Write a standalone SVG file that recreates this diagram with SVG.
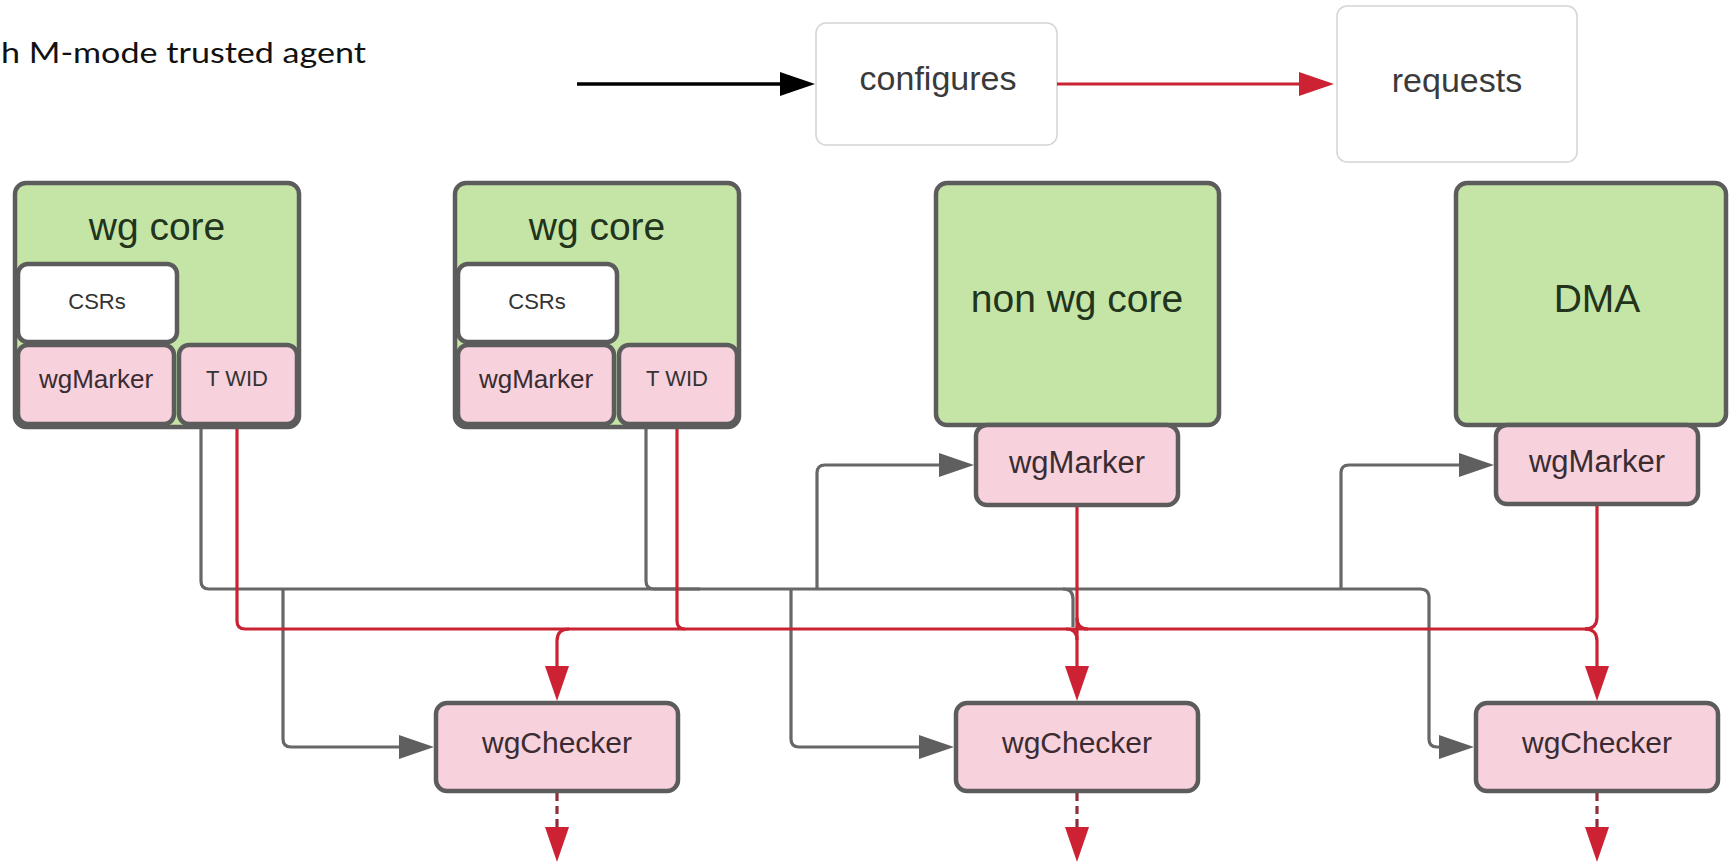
<svg xmlns="http://www.w3.org/2000/svg" width="1729" height="864" viewBox="0 0 1729 864">
  <defs>
    <style>
      .core { fill: #c5e5a7; stroke: #5c5c5c; stroke-width: 4.5; }
      .pink { fill: #f7d1dc; stroke: #5c5c5c; stroke-width: 4.5; }
      .white { fill: #ffffff; stroke: #5c5c5c; stroke-width: 4.5; }
      .legend { fill: #ffffff; stroke: #d4d4d4; stroke-width: 1.5; }
      .conf { fill: none; stroke: #676767; stroke-width: 3.2; }
      .req { fill: none; stroke: #c92333; stroke-width: 3.2; }
      .out { fill: none; stroke: #8f2f3c; stroke-width: 3.2; stroke-dasharray: 8 5; }
      text { font-family: "Liberation Sans", Arial, sans-serif; text-anchor: middle; }
      .big { font-size: 39px; fill: #22341b; }
      .mid { font-size: 31px; fill: #3a2c31; }
      .small { font-size: 26px; fill: #3a2c31; }
      .tiny { font-size: 22px; fill: #333333; }
      .lbl { font-size: 34px; fill: #3a3a3a; }
      .title { font-family: Lato, "Liberation Sans", sans-serif; font-size: 28px; fill: #111111; text-anchor: start; }
    </style>
    <marker id="arrGrey" markerUnits="userSpaceOnUse" markerWidth="36" markerHeight="26" refX="0" refY="12" orient="auto">
      <path d="M0,0 L35,12 L0,24 Z" fill="#5f5f5f"/>
    </marker>
    <marker id="arrBlack" markerUnits="userSpaceOnUse" markerWidth="36" markerHeight="26" refX="0" refY="12" orient="auto">
      <path d="M0,0 L35,12 L0,24 Z" fill="#000000"/>
    </marker>
    <marker id="arrRed" markerUnits="userSpaceOnUse" markerWidth="36" markerHeight="26" refX="0" refY="12" orient="auto">
      <path d="M0,0 L35,12 L0,24 Z" fill="#cc2233"/>
    </marker>
  </defs>

  <rect width="1729" height="864" fill="#ffffff"/>

  <!-- caption -->
  <text class="title" x="1" y="63" textLength="365" lengthAdjust="spacingAndGlyphs">h M-mode trusted agent</text>

  <!-- legend -->
  <g id="legend">
    <path d="M577,84 H780" fill="none" stroke="#000000" stroke-width="3.5" marker-end="url(#arrBlack)"/>
    <rect class="legend" x="816" y="23" width="241" height="122" rx="10"/>
    <text class="lbl" x="938" y="90">configures</text>
    <path d="M1057,84 H1299" class="req" marker-end="url(#arrRed)"/>
    <rect class="legend" x="1337" y="6" width="240" height="156" rx="10"/>
    <text class="lbl" x="1457" y="92">requests</text>
  </g>

  <!-- connectors -->
  <g id="connectors">
    <!-- configuration paths (grey) -->
    <path class="conf" d="M201,427 V581 Q201,589 209,589 H1420 Q1429,589 1429,598 V739 Q1429,747 1437,747 H1439" marker-end="url(#arrGrey)"/>
    <path class="conf" d="M646,427 V581 Q646,589 654,589 H700"/>
    <path class="conf" d="M1063,589 Q1073,589 1073,599 V627"/>
    <path class="conf" d="M283,589 V739 Q283,747 291,747 H399" marker-end="url(#arrGrey)"/>
    <path class="conf" d="M791,589 V739 Q791,747 799,747 H919" marker-end="url(#arrGrey)"/>
    <path class="conf" d="M817,589 V473 Q817,465 825,465 H939" marker-end="url(#arrGrey)"/>
    <path class="conf" d="M1341,589 V473 Q1341,465 1349,465 H1459" marker-end="url(#arrGrey)"/>

    <!-- request paths (red) -->
    <path class="req" d="M237,427 V621 Q237,629 245,629 H1587"/>
    <path class="req" d="M677,427 V621 Q677,629 685,629"/>
    <path class="req" d="M569,629 Q557,629 557,641 V666" marker-end="url(#arrRed)"/>
    <path class="req" d="M1077,505 V666" marker-end="url(#arrRed)"/>
    <path class="req" d="M1066,629 Q1077,629 1077,640 M1088,629 Q1077,629 1077,618"/>
    <path class="req" d="M1597,505 V617 Q1597,629 1585,629"/>
    <path class="req" d="M1585,629 Q1597,629 1597,641 V666" marker-end="url(#arrRed)"/>

    <!-- outgoing checked requests -->
    <path class="out" d="M557,793 V827" marker-end="url(#arrRed)"/>
    <path class="out" d="M1077,793 V827" marker-end="url(#arrRed)"/>
    <path class="out" d="M1597,793 V827" marker-end="url(#arrRed)"/>
  </g>

  <!-- wg core 1 -->
  <g id="wgcore1">
    <rect class="core" x="15" y="183" width="284" height="244" rx="11"/>
    <text class="big" x="157" y="240">wg core</text>
    <rect class="white" x="18" y="264" width="159" height="78" rx="10"/>
    <text class="tiny" x="97" y="309">CSRs</text>
    <rect class="pink" x="18" y="345" width="156" height="79" rx="10"/>
    <text class="small" x="96" y="388">wgMarker</text>
    <rect class="pink" x="179" y="345" width="118" height="79" rx="10"/>
    <text class="tiny" x="237" y="386" textLength="62" lengthAdjust="spacingAndGlyphs">T WID</text>
  </g>

  <!-- wg core 2 -->
  <g id="wgcore2">
    <rect class="core" x="455" y="183" width="284" height="244" rx="11"/>
    <text class="big" x="597" y="240">wg core</text>
    <rect class="white" x="458" y="264" width="159" height="78" rx="10"/>
    <text class="tiny" x="537" y="309">CSRs</text>
    <rect class="pink" x="458" y="345" width="156" height="79" rx="10"/>
    <text class="small" x="536" y="388">wgMarker</text>
    <rect class="pink" x="619" y="345" width="118" height="79" rx="10"/>
    <text class="tiny" x="677" y="386" textLength="62" lengthAdjust="spacingAndGlyphs">T WID</text>
  </g>

  <!-- non wg core -->
  <g id="nonwgcore">
    <rect class="core" x="936" y="183" width="283" height="242" rx="11"/>
    <text class="big" x="1077" y="312">non wg core</text>
  </g>
  <g id="marker3">
    <rect class="pink" x="976" y="425" width="202" height="80" rx="11"/>
    <text class="mid" x="1077" y="473">wgMarker</text>
  </g>

  <!-- DMA -->
  <g id="dma">
    <rect class="core" x="1456" y="183" width="270" height="242" rx="11"/>
    <text class="big" x="1597" y="312">DMA</text>
  </g>
  <g id="marker4">
    <rect class="pink" x="1496" y="425" width="202" height="79" rx="11"/>
    <text class="mid" x="1597" y="472">wgMarker</text>
  </g>

  <!-- checkers -->
  <g id="checker1">
    <rect class="pink" x="436" y="703" width="242" height="88" rx="11"/>
    <text class="mid" x="557" y="753" style="font-size:30px">wgChecker</text>
  </g>
  <g id="checker2">
    <rect class="pink" x="956" y="703" width="242" height="88" rx="11"/>
    <text class="mid" x="1077" y="753" style="font-size:30px">wgChecker</text>
  </g>
  <g id="checker3">
    <rect class="pink" x="1476" y="703" width="242" height="88" rx="11"/>
    <text class="mid" x="1597" y="753" style="font-size:30px">wgChecker</text>
  </g>
</svg>
